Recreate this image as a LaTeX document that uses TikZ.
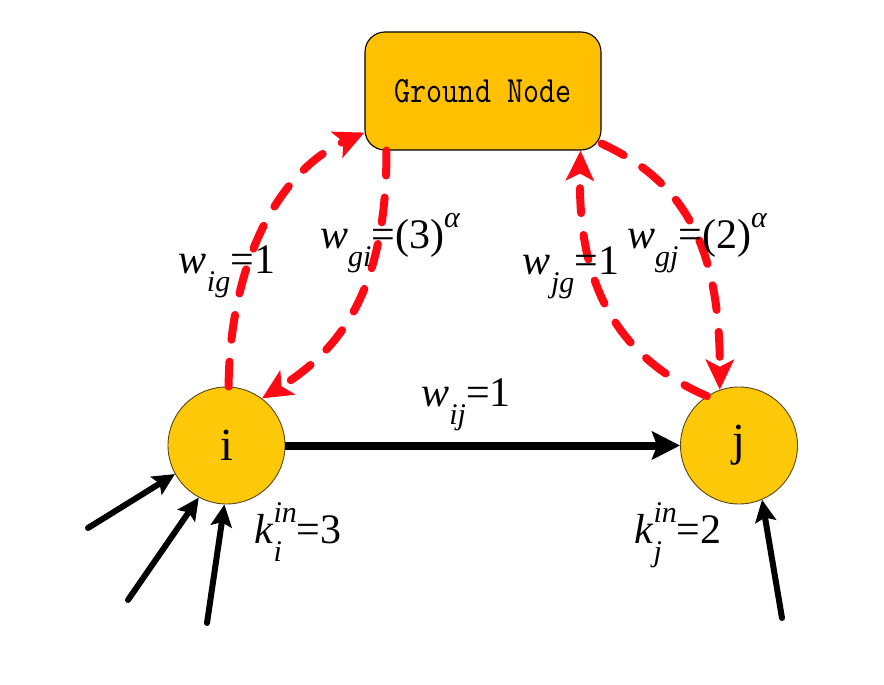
\documentclass[tikz,border=0pt]{standalone}
\usepackage{fontspec}
\setmainfont{Liberation Serif}
\usetikzlibrary{arrows.meta}
\definecolor{boxorange}{RGB}{255,192,0}
\definecolor{nodeyellow}{RGB}{252,200,8}
\definecolor{dashred}{RGB}{255,10,20}
\definecolor{rimbrown}{RGB}{90,70,20}
\newcommand{\lsub}[1]{\raisebox{-0.42em}{\fontsize{30}{30}\selectfont\itshape #1}}
\newcommand{\lsup}[1]{\raisebox{0.5em}{\fontsize{30}{30}\selectfont\itshape #1}}
\tikzset{
  gbox/.style={draw=black, line width=1.1pt, fill=boxorange, rounded corners=20pt,
    minimum width=236pt, minimum height=118pt, inner sep=0pt,
    font=\ttfamily\fontsize{37}{37}\selectfont},
  vnode/.style={circle, draw=rimbrown, line width=0.9pt, fill=nodeyellow,
    minimum size=117pt, inner sep=0pt, font=\fontsize{46}{46}\selectfont},
  lab/.style={inner sep=0pt, font=\fontsize{42}{42}\selectfont},
  mainarrow/.style={line width=8pt, -{Stealth[length=28pt,width=28pt,inset=5pt]}},
  inarrow/.style={line width=6pt, line cap=round, -{Stealth[length=22pt,width=21pt,inset=4pt]}},
  redarrow/.style={dashred, line width=8pt, line cap=round, dash pattern=on 25pt off 22pt,
    -{Stealth[length=30pt,width=28pt,inset=7pt]}},
}
\begin{document}
\begin{tikzpicture}[x=1pt,y=-1pt]
\useasboundingbox (0,0) rectangle (884,685);
\node[gbox] (g) at (483,91) {\scalebox{0.84}[1]{Ground Node}};
\node[vnode] (i) at (226.5,445.5) {i};
\node[vnode] (j) at (739,445.5) {j};

\draw[mainarrow] (i.east) -- (j.west);

\coordinate (a1) at (88,528);
\coordinate (a2) at (128,600);
\coordinate (a3) at (207,623);
\coordinate (a4) at (782,618);
\draw[inarrow] (a1) -- (i.209);
\draw[inarrow] (a2) -- (i.242);
\draw[inarrow] (a3) -- (i.268);
\draw[inarrow] (a4) -- (j.293);

\draw[redarrow] (i.88) .. controls (230,260) and (280,170) .. ([yshift=18pt]g.south west);
\draw[redarrow] ([xshift=22pt]g.south west) .. controls (387,290) and (340,350) .. (i.53);
\draw[redarrow] (j.123) .. controls (600,350) and (578,260) .. ([xshift=-21pt]g.south east);
\draw[redarrow] ([yshift=7pt]g.south east) .. controls (680,180) and (720,240) .. (j.109);

\node[lab] (lig) at (227,272) {\textit{w}\lsub{ig}=1};
\node[lab] (lgi) at (390,243) {\textit{w}\lsub{gi}=(3)\lsup{α}};
\node[lab] (ljg) at (571,273) {\textit{w}\lsub{jg}=1};
\node[lab] (lgj) at (697,243) {\textit{w}\lsub{gj}=(2)\lsup{α}};
\node[lab] (lij) at (466,405) {\textit{w}\lsub{ij}=1};
\node[lab] (lki) at (298,532) {\textit{k}\rlap{\lsub{i}}\lsup{in}=3};
\node[lab] (lkj) at (678,535) {\textit{k}\rlap{\lsub{j}}\lsup{in}=2};
\end{tikzpicture}
\end{document}
